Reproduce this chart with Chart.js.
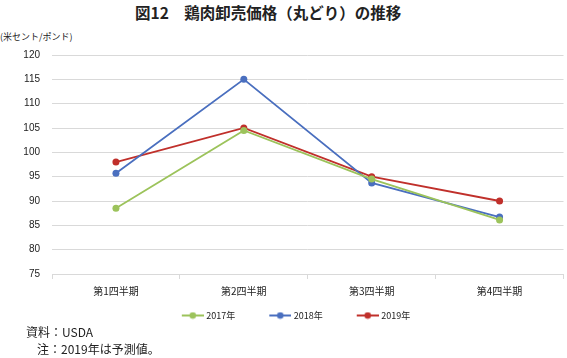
<!DOCTYPE html>
<html><head><meta charset="utf-8">
<script src="https://cdn.jsdelivr.net/npm/chart.js@4"></script>
<style>
html,body{margin:0;padding:0;background:#fff;}
#wrap{position:relative;width:567px;height:358px;overflow:hidden;font-family:"Noto Sans CJK JP","Liberation Sans",sans-serif;color:#222;}
#title{position:absolute;top:1px;left:135px;font-size:15.5px;font-weight:bold;white-space:nowrap;}
#unit{position:absolute;top:30px;left:0;font-size:9px;white-space:nowrap;}
#cv{position:absolute;left:0;top:37px;}
.note{position:absolute;font-size:12px;white-space:nowrap;}
</style></head>
<body><div id="wrap">
<div id="title">図12　鶏肉卸売価格（丸どり）の推移</div>
<div id="unit">(米セント/ポンド)</div>
<canvas id="cv" width="567" height="293"></canvas>
<div class="note" style="left:26px;top:323px;">資料：USDA</div>
<div class="note" style="left:37px;top:340px;">注：2019年は予測値。</div>
</div>
<script>
const categories = ["第1四半期","第2四半期","第3四半期","第4四半期"];
const series2017 = [88.5, 104.5, 94.5, 86.1];
const series2018 = [95.7, 115.0, 93.7, 86.7];
const series2019 = [98.0, 105.0, 95.0, 90.0];
const seriesNames = ["2017年","2018年","2019年"];
const yTicks = [75,80,85,90,95,100,105,110,115,120];
const colors = ["#9CC35B","#4A6FBF","#C0302B"];

const LW = 46; // legend box width (includes blank lead-in space)
function legendIcon(c){
  const w = LW + 4;
  const cv=document.createElement('canvas'); cv.width=w; cv.height=8;
  const x=cv.getContext('2d');
  x.strokeStyle=c; x.lineWidth=2; x.beginPath(); x.moveTo(w-22,4); x.lineTo(w,4); x.stroke();
  x.fillStyle=c; x.beginPath(); x.arc(w-11,4,3.3,0,Math.PI*2); x.fill();
  return cv;
}
const data=[series2017,series2018,series2019];
const datasets=data.map((d,i)=>({
  label:seriesNames[i], data:d, borderColor:colors[i], backgroundColor:colors[i],
  borderWidth:1.8, pointRadius:3.5, pointHoverRadius:3.5, pointBorderWidth:0,
  pointStyle:'circle', tension:0, _icon:legendIcon(colors[i])
}));
const font={family:'"Liberation Sans","Noto Sans CJK JP",sans-serif'};
new Chart(document.getElementById('cv'),{
  type:'line',
  data:{labels:categories,datasets},
  options:{
    responsive:false, animation:false, devicePixelRatio:1,
    layout:{padding:{top:4,right:1,left:0,bottom:0}},
    plugins:{
      tooltip:{enabled:false},
      legend:{position:'bottom',
        labels:{usePointStyle:true,pointStyleWidth:LW,boxHeight:8,padding:8,
          color:'#222',font:{size:9,family:'"Noto Sans CJK JP",sans-serif'},
          generateLabels:(ch)=>ch.data.datasets.map((ds,i)=>({text:ds.label,pointStyle:ds._icon,fillStyle:ds.borderColor,strokeStyle:ds.borderColor,lineWidth:0,datasetIndex:i,hidden:false,fontColor:'#222'}))
        }}
    },
    scales:{
      x:{offset:true,
        grid:{display:true,drawOnChartArea:false,drawTicks:true,tickLength:5,color:'#d9d9d9',offset:true},
        border:{display:true,color:'#d9d9d9'},
        ticks:{color:'#222',padding:6,font:{size:10,family:'"Noto Sans CJK JP",sans-serif'}}
      },
      y:{min:75,max:120,
        afterBuildTicks:(s)=>{s.ticks=yTicks.map(v=>({value:v}));},
        afterFit:(s)=>{s.width=52;},
        grid:{color:'#d9d9d9',drawTicks:false},
        border:{display:false},
        ticks:{color:'#222',padding:12,font:{...font,size:10}}
      }
    }
  }
});
</script>
</body></html>
